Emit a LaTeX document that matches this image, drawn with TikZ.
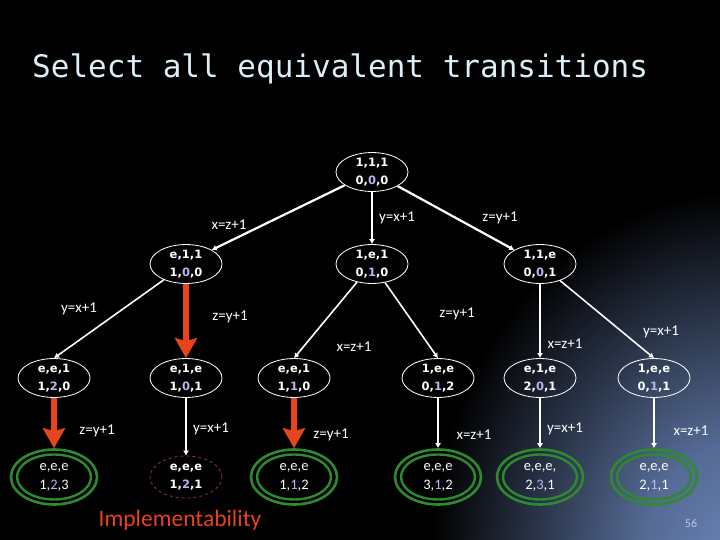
\documentclass[tikz,border=0pt]{standalone}
\usepackage{fontspec}
\setmainfont{Carlito}
\newfontfamily\monof{DejaVu Sans Mono}
\newfontfamily\nodef{DejaVu Sans}
\usetikzlibrary{shapes.geometric,arrows.meta}
\definecolor{titlec}{HTML}{DCEFF7}
\definecolor{midc}{HTML}{B8B8F0}
\definecolor{redarr}{HTML}{E8441C}
\definecolor{greenc}{HTML}{2E8A2E}
\definecolor{dashc}{HTML}{8E3A3A}
\definecolor{glowc}{HTML}{6A84B8}
\definecolor{pagec}{HTML}{B8C8E0}
\pgfdeclareradialshading{glow}{\pgfpoint{0bp}{0bp}}{color(0bp)=(glowc); color(8bp)=(glowc!80!black); color(16bp)=(glowc!42!black); color(25bp)=(black); color(50bp)=(black)}
\newcommand{\mc}[1]{{\color{midc}#1}}
\begin{document}
\begin{tikzpicture}[x=1pt,y=-1pt,
  wnode/.style={ellipse, draw=white, line width=0.8pt, minimum width=72pt, minimum height=38pt,
    inner sep=0pt, align=center, text=white, font=\nodef\bfseries\fontsize{11.5}{17.5}\selectfont},
  dnode/.style={wnode, draw=dashc, dashed},
  gnode/.style={ellipse, draw=greenc, line width=2.6pt, minimum width=86pt, minimum height=55pt,
    inner sep=0pt, align=center, text=white, font=\fontsize{14.5}{19}\selectfont},
  warr/.style={draw=white, line width=2.2pt, -{Latex[length=5pt,width=6pt]}},
  tarr/.style={draw=white, line width=1.6pt, -{Latex[length=5pt,width=6pt]}},
  rarr/.style={draw=redarr, line width=6pt, -{Stealth[length=20pt,width=22pt,inset=3pt]}},
  lab/.style={text=white, inner sep=0pt, font=\fontsize{15}{18}\selectfont}
]
\useasboundingbox (0,0) rectangle (720,540);
\fill[black] (0,0) rectangle (720,540);
\begin{scope}
  \clip (0,0) rectangle (720,540);
  \shade[shading=glow] (740,560) ellipse [x radius=310pt, y radius=370pt];
\end{scope}

\node[anchor=base west, inner sep=0pt, text=titlec, font=\monof\fontsize{31}{36}\selectfont] (title) at (32,78) {Select all equivalent transitions};

% level 1
\node[wnode] (r) at (372,172) {1,1,1\\0,\mc{0},0};
% level 2
\node[wnode] (a) at (186,264) {e,1,1\\1,\mc{0},0};
\node[wnode] (b) at (372,264) {1,e,1\\0,\mc{1},0};
\node[wnode] (c) at (540,264) {1,1,e\\0,\mc{0},1};
% level 3
\node[wnode] (a1) at (54,378) {e,e,1\\1,\mc{2},0};
\node[wnode] (a2) at (186,378) {e,1,e\\1,\mc{0},1};
\node[wnode] (b1) at (294,378) {e,e,1\\1,\mc{1},0};
\node[wnode] (b2) at (438,378) {1,e,e\\0,\mc{1},2};
\node[wnode] (c1) at (540,378) {e,1,e\\2,\mc{0},1};
\node[wnode] (c2) at (654,378) {1,e,e\\0,\mc{1},1};
% level 4
\node[gnode] (a1x) at (54,477) {e,e,e\\1,\mc{2},3};
\node[dnode, minimum height=42pt] (a2x) at (186,477) {e,e,e\\1,\mc{2},1};
\node[gnode] (b1x) at (294,477) {e,e,e\\1,\mc{1},2};
\node[gnode] (b2x) at (438,477) {e,e,e\\3,\mc{1},2};
\node[gnode] (c1x) at (540,477) {e,e,e,\\2,\mc{3},1};
\node[gnode] (c2x) at (654,477) {e,e,e\\2,\mc{1},1};
\foreach \n in {a1x,b1x,b2x,c1x,c2x}
  \draw[greenc, line width=2.4pt] (\n.center) ellipse [x radius=37pt, y radius=22.5pt];

% edges
\draw[warr] (r) -- (a.north east);
\draw[warr] (r) -- (b);
\draw[warr] (r) -- (c.north west);
\draw[tarr] (a) -- (a1.north);
\draw[rarr] (a.south) -- (a2.north);
\draw[tarr] (b) -- (b1.north);
\draw[tarr] (b) -- (b2.north);
\draw[tarr] (c) -- (c1.north);
\draw[tarr] (c) -- (c2.north);
\draw[rarr] (a1.south) -- (a1x.north);
\draw[tarr] (a2.south) -- (a2x.north);
\draw[rarr] (b1.south) -- (b1x.north);
\draw[tarr] (b2.south) -- (b2x.north);
\draw[tarr] (c1.south) -- (c1x.north);
\draw[tarr] (c2.south) -- (c2x.north);

% labels
\node[lab] (l1) at (229,225) {x=z+1};
\node[lab] (l2) at (397,218) {y=x+1};
\node[lab] (l3) at (500,218) {z=y+1};
\node[lab] (l4) at (79,309) {y=x+1};
\node[lab] (l5) at (230,317) {z=y+1};
\node[lab] (l6) at (354,347) {x=z+1};
\node[lab] (l7) at (457,314) {z=y+1};
\node[lab] (l8) at (565,344) {x=z+1};
\node[lab] (l9) at (661,332) {y=x+1};
\node[lab] (l10) at (97,431) {z=y+1};
\node[lab] (l11) at (211,429) {y=x+1};
\node[lab] (l12) at (331,435) {z=y+1};
\node[lab] (l13) at (474,435) {x=z+1};
\node[lab] (l14) at (565,429) {y=x+1};
\node[lab] (l15) at (691,431) {x=z+1};

\node[text=redarr, inner sep=0pt, font=\fontsize{23.5}{28}\selectfont] (impl) at (180,520) {Implementability};
\node[text=pagec, inner sep=0pt, font=\fontsize{12}{14}\selectfont] (page) at (691,523) {56};
\end{tikzpicture}
\end{document}
